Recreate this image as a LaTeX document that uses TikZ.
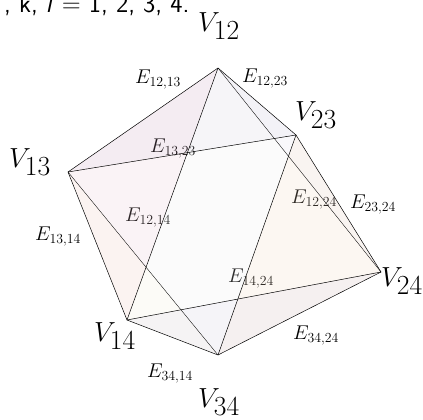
\documentclass[tikz,border=0pt]{standalone}
\usepackage{xcolor}
\usepackage{tikz}
\definecolor{FaceA}{HTML}{E18BAF}
\definecolor{FaceB}{HTML}{AFAFC3}
\definecolor{FaceC}{HTML}{EBE1EB}
\definecolor{FaceD}{HTML}{D2C3E6}
\definecolor{FaceE}{HTML}{EBF5EB}
\definecolor{FaceF}{HTML}{F0F0BE}
\definecolor{FaceG}{HTML}{F0C891}
\definecolor{FaceH}{HTML}{AF9BCD}
\tikzset{
  facefill/.style={fill opacity=0.1},
  edgeline/.style={line width=0.5pt,color=black},
  backline/.style={line width=0.35pt,color=black},
  vertexlabel/.style={font=\fontsize{34}{38}\selectfont,scale=1.11,inner sep=0pt},
  edgelabel/.style={font=\fontsize{19.5}{22}\selectfont,scale=0.96,inner sep=0pt}
}

\begin{document}
\begin{tikzpicture}[x=1pt,y=-1pt]
      \useasboundingbox (0,0) rectangle (423,420);
      \coordinate (v12) at (218,68);
      \coordinate (v23) at (296,135);
      \coordinate (v13) at (68,172);
      \coordinate (v24) at (381,272);
      \coordinate (v14) at (127,320);
      \coordinate (v34) at (218,355);
      \begin{scope}
        \clip (0,0) rectangle (423,420);
        \node[anchor=base west,font=\fontsize{26}{30}\selectfont\sffamily,inner sep=0pt] (top) at (4,13) {, k, \textsl{l} = 1, 2, 3, 4.};
      \end{scope}
      \node[vertexlabel] (l12) at (219,26) {$V_{12}$};
      \node[vertexlabel] (l23) at (316,115) {$V_{23}$};
      \node[vertexlabel] (l13) at (30,162) {$V_{13}$};
      \node[vertexlabel] (l24) at (402,281) {$V_{24}$};
      \node[vertexlabel] (l14) at (115,336) {$V_{14}$};
      \node[vertexlabel] (l34) at (219,402) {$V_{34}$};
      \node[edgelabel] (e1213) at (158,80) {$E_{12,13}$};
      \node[edgelabel] (e1223) at (265,79) {$E_{12,23}$};
      \node[edgelabel] (e1323) at (173,149) {$E_{13,23}$};
      \node[edgelabel] (e1224) at (314,200) {$E_{12,24}$};
      \node[edgelabel] (e2324) at (373,205) {$E_{23,24}$};
      \node[edgelabel] (e1214) at (148,218) {$E_{12,14}$};
      \node[edgelabel] (e1314) at (58,237) {$E_{13,14}$};
      \node[edgelabel] (e1424) at (251,279) {$E_{14,24}$};
      \node[edgelabel] (e3424) at (316,336) {$E_{34,24}$};
      \node[edgelabel] (e3414) at (170,374) {$E_{34,14}$};
      % faces
      \foreach \a/\b/\c/\col in {v12/v13/v14/FaceA,v12/v13/v23/FaceB,v12/v14/v24/FaceC,v12/v23/v24/FaceD,
          v34/v13/v23/FaceE,v34/v13/v14/FaceF,v34/v23/v24/FaceG,v34/v14/v24/FaceH}
        \fill[facefill,fill=\col] (\a) -- (\b) -- (\c) -- cycle;
      \foreach \a/\b in {v12/v13,v12/v14,v12/v23,v34/v14,v34/v23,v34/v24,
          v13/v14,v13/v23,v14/v24,v23/v24}
        \draw[edgeline] (\a) -- (\b);
      \foreach \a/\b in {v12/v24,v13/v34}
        \draw[backline] (\a) -- (\b);
    \end{tikzpicture}
\end{document}
